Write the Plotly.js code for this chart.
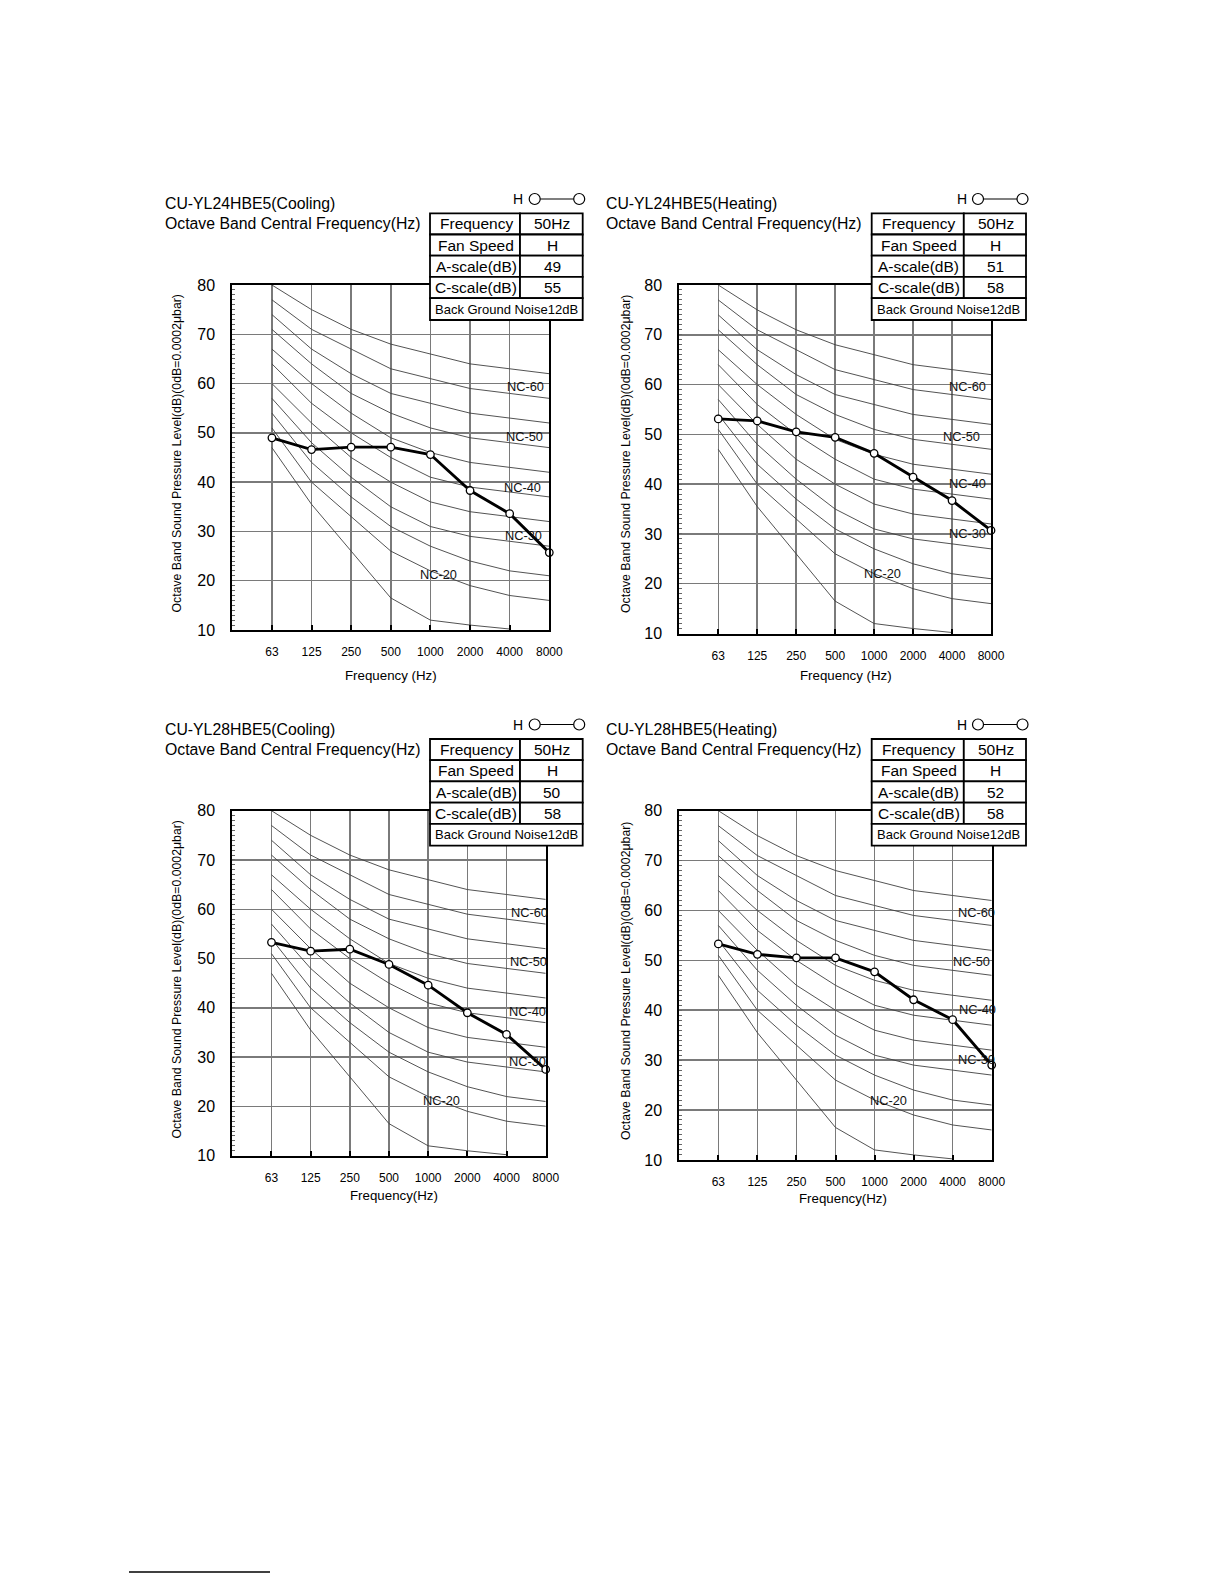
<!DOCTYPE html>
<html>
<head>
<meta charset="utf-8">
<script src="https://cdn.plot.ly/plotly-3.0.1.min.js"></script>
<style>
  html, body { margin: 0; padding: 0; background: #ffffff; }
  #chart { width: 1224px; height: 1584px; }
</style>
</head>
<body>
<div id="chart"></div>
<script>
// ---------- DATA ----------
const freqLabels = ['63', '125', '250', '500', '1000', '2000', '4000', '8000'];

// NC reference curves (dB at each octave band)
const nc65 = [80, 75, 71, 68, 66, 64, 63, 62];
const nc60 = [77, 71, 67, 63, 61, 59, 58, 57];
const nc55 = [74, 67, 62, 58, 56, 54, 53, 52];
const nc50 = [71, 64, 58, 54, 51, 49, 48, 47];
const nc45 = [67, 60, 54, 49, 46, 44, 43, 42];
const nc40 = [64, 56, 50, 45, 41, 39, 38, 37];
const nc35 = [60, 52, 45, 40, 36, 34, 33, 32];
const nc30 = [57, 48, 41, 35, 31, 29, 28, 27];
const nc25 = [54, 44, 37, 31, 27, 24, 22, 21];
const nc20 = [51, 40, 33, 26, 22, 19, 17, 16];
const ncLow = [47, 35.5, 26, 16.5, 12, 11, 10.2];

// Measured octave band levels
const cool24 = [49.0, 46.6, 47.1, 47.1, 45.6, 38.3, 33.6, 25.7];
const heat24 = [53.1, 52.7, 50.5, 49.4, 46.2, 41.4, 36.7, 30.7];
const cool28 = [53.3, 51.5, 51.9, 48.8, 44.6, 39.0, 34.6, 27.5];
const heat28 = [53.3, 51.2, 50.5, 50.5, 47.7, 42.1, 38.1, 29.0];

// Chart texts
const chartTitles = ['CU-YL24HBE5(Cooling)', 'CU-YL24HBE5(Heating)', 'CU-YL28HBE5(Cooling)', 'CU-YL28HBE5(Heating)'];
const subTitle = 'Octave Band Central Frequency(Hz)';
const xTitles = ['Frequency (Hz)', 'Frequency (Hz)', 'Frequency(Hz)', 'Frequency(Hz)'];
const yTitle = 'Octave Band Sound Pressure Level(dB)(0dB=0.0002\u03bcbar)';
const yTickVals = [10, 20, 30, 40, 50, 60, 70, 80];
const tableLabels = ['Frequency', 'Fan Speed', 'A-scale(dB)', 'C-scale(dB)'];
const table24C = ['50Hz', 'H', '49', '55'];
const table24H = ['50Hz', 'H', '51', '58'];
const table28C = ['50Hz', 'H', '50', '58'];
const table28H = ['50Hz', 'H', '52', '58'];
const bgNoise = 'Back Ground Noise12dB';
const ncLabelTexts = ['NC-60', 'NC-50', 'NC-40', 'NC-30', 'NC-20'];

// ---------- LAYOUT GEOMETRY (pixels) ----------
const W = 1224, H = 1584;
const px = x => x / W;
const py = y => 1 - y / H;
const FONT = 'Liberation Sans, Arial, Helvetica, sans-serif';

const charts = [
  { vals: cool24, table: table24C, L: 232.3, R: 549.3, T: 285, B: 630, tabL: 430, tabM: 520, tabR: 582.7, tabT: 213.3,
    titleX: 162.7, titleY: 203.3, legY: 199, xtX: 390.5, xtY: 675.7, ytX: 176.5, ytY: 453,
    ncPos: [[6.39, 59.4], [6.37, 49.2], [6.33, 39.0], [6.35, 29.2], [4.2, 21.2]] },
  { vals: heat24, table: table24H, L: 679.3, R: 991, T: 285, B: 633.5, tabL: 871.7, tabM: 963.8, tabR: 1026, tabT: 213.3,
    titleX: 604.4, titleY: 203.3, legY: 199, xtX: 846.4, xtY: 675.7, ytX: 626, ytY: 454,
    ncPos: [[6.39, 59.6], [6.25, 49.6], [6.39, 40.1], [6.39, 30.1], [4.21, 22.0]] },
  { vals: cool28, table: table28C, L: 232.3, R: 545.7, T: 810.7, B: 1155.7, tabL: 430, tabM: 520, tabR: 582.7, tabT: 739,
    titleX: 162.7, titleY: 729, legY: 724.5, xtX: 394, xtY: 1195, ytX: 176.5, ytY: 979,
    ncPos: [[6.58, 59.4], [6.55, 49.4], [6.54, 39.2], [6.54, 29.1], [4.33, 21.1]] },
  { vals: heat28, table: table28H, L: 679.3, R: 991.7, T: 810.7, B: 1159.9, tabL: 871.7, tabM: 963.8, tabR: 1026, tabT: 739,
    titleX: 604.4, titleY: 729, legY: 724.5, xtX: 843.4, xtY: 1198.9, ytX: 626, ytY: 981,
    ncPos: [[6.62, 59.6], [6.49, 49.7], [6.64, 40.1], [6.62, 30.1], [4.37, 22.0]] }
];

const ncCurves = [nc65, nc60, nc55, nc50, nc45, nc40, nc35, nc30, nc25, nc20, ncLow];

const traces = [];
const layout = {
  width: W, height: H,
  margin: { l: 0, r: 0, t: 0, b: 0 },
  paper_bgcolor: '#ffffff',
  plot_bgcolor: '#ffffff',
  showlegend: false,
  font: { family: FONT, color: '#000' },
  shapes: [],
  annotations: []
};

charts.forEach((c, i) => {
  const n = i + 1;
  const xa = 'x' + (n === 1 ? '' : n);
  const ya = 'y' + (n === 1 ? '' : n);
  const xKey = 'xaxis' + (n === 1 ? '' : n);
  const yKey = 'yaxis' + (n === 1 ? '' : n);

  layout[xKey] = {
    domain: [px(c.L), px(c.R)],
    anchor: ya,
    type: 'category',
    categoryorder: 'array',
    categoryarray: freqLabels,
    range: [-1, 7],
    showgrid: true, gridcolor: '#7a7a7a', gridwidth: 1.5,
    showline: true, mirror: true, linecolor: '#000', linewidth: 2,
    ticks: 'inside', ticklen: 5, tickwidth: 2, tickcolor: '#000',
    tickfont: { family: FONT, size: 12, color: '#000' },
    ticklabelstandoff: 10,
    zeroline: false, fixedrange: true
  };
  layout[yKey] = {
    domain: [py(c.B), py(c.T)],
    anchor: xa,
    range: [10, 80],
    tickmode: 'array', tickvals: yTickVals, ticktext: yTickVals.map(String),
    showgrid: true, gridcolor: '#7a7a7a', gridwidth: 1.5,
    showline: true, mirror: true, linecolor: '#000', linewidth: 2,
    ticks: 'inside', ticklen: 3, tickwidth: 1, tickcolor: '#666',
    minor: { tickmode: 'linear', tick0: 10, dtick: 1, ticks: 'inside', ticklen: 3, tickwidth: 1, tickcolor: '#666', showgrid: false },
    tickfont: { family: FONT, size: 16, color: '#000' },
    ticklabelstandoff: 12,
    zeroline: false, fixedrange: true
  };

  ncCurves.forEach(curve => {
    traces.push({
      type: 'scatter', mode: 'lines',
      x: freqLabels.slice(0, curve.length), y: curve,
      xaxis: xa, yaxis: ya,
      line: { color: '#404040', width: 0.9 },
      hoverinfo: 'skip'
    });
  });

  traces.push({
    type: 'scatter', mode: 'lines+markers',
    x: freqLabels, y: c.vals,
    xaxis: xa, yaxis: ya,
    cliponaxis: false,
    line: { color: '#000', width: 2.9 },
    marker: { size: 7.5, color: '#ffffff', line: { color: '#000', width: 1.3 } }
  });

  // NC labels
  c.ncPos.forEach((p, k) => {
    layout.annotations.push({
      xref: xa, yref: ya, x: p[0], y: p[1],
      text: ncLabelTexts[k], showarrow: false,
      xanchor: 'center', yanchor: 'middle',
      font: { family: FONT, size: 12.8, color: '#111' }
    });
  });

  // Titles
  layout.annotations.push({
    xref: 'paper', yref: 'paper', x: px(c.titleX), y: py(c.titleY),
    text: chartTitles[i], showarrow: false, xanchor: 'left', yanchor: 'middle',
    font: { family: FONT, size: 15.8, color: '#000' }
  });
  layout.annotations.push({
    xref: 'paper', yref: 'paper', x: px(c.titleX), y: py(c.titleY + 20),
    text: subTitle, showarrow: false, xanchor: 'left', yanchor: 'middle',
    font: { family: FONT, size: 15.8, color: '#000' }
  });

  // Axis titles
  layout.annotations.push({
    xref: 'paper', yref: 'paper', x: px(c.xtX), y: py(c.xtY),
    text: xTitles[i], showarrow: false, xanchor: 'center', yanchor: 'middle',
    font: { family: FONT, size: 13.3, color: '#000' }
  });
  layout.annotations.push({
    xref: 'paper', yref: 'paper', x: px(c.ytX), y: py(c.ytY),
    text: yTitle, showarrow: false, textangle: -90, xanchor: 'center', yanchor: 'middle',
    font: { family: FONT, size: 12.3, color: '#000' }
  });

  // Table
  const rowH = [0, 21.2, 42.4, 63.6, 84.8, 106.7].map(d => c.tabT + d);
  for (let r = 0; r < 4; r++) {
    layout.shapes.push({
      type: 'rect', xref: 'paper', yref: 'paper', layer: 'above',
      x0: px(c.tabL), x1: px(c.tabM), y0: py(rowH[r + 1]), y1: py(rowH[r]),
      fillcolor: '#ffffff', line: { color: '#000', width: 1.8 }
    });
    layout.shapes.push({
      type: 'rect', xref: 'paper', yref: 'paper', layer: 'above',
      x0: px(c.tabM), x1: px(c.tabR), y0: py(rowH[r + 1]), y1: py(rowH[r]),
      fillcolor: '#ffffff', line: { color: '#000', width: 1.8 }
    });
    layout.annotations.push({
      xref: 'paper', yref: 'paper', x: px((c.tabL + c.tabM) / 2 + 1), y: py((rowH[r] + rowH[r + 1]) / 2),
      text: tableLabels[r], showarrow: false, xanchor: 'center', yanchor: 'middle',
      font: { family: FONT, size: 15.5, color: '#000' }
    });
    layout.annotations.push({
      xref: 'paper', yref: 'paper', x: px((c.tabM + c.tabR) / 2 + 1), y: py((rowH[r] + rowH[r + 1]) / 2),
      text: c.table[r], showarrow: false, xanchor: 'center', yanchor: 'middle',
      font: { family: FONT, size: 15.5, color: '#000' }
    });
  }
  layout.shapes.push({
    type: 'rect', xref: 'paper', yref: 'paper', layer: 'above',
    x0: px(c.tabL), x1: px(c.tabR), y0: py(rowH[5]), y1: py(rowH[4]),
    fillcolor: '#ffffff', line: { color: '#000', width: 1.8 }
  });
  layout.annotations.push({
    xref: 'paper', yref: 'paper', x: px((c.tabL + c.tabR) / 2), y: py((rowH[4] + rowH[5]) / 2),
    text: bgNoise, showarrow: false, xanchor: 'center', yanchor: 'middle',
    font: { family: FONT, size: 13, color: '#000' }
  });

  // Legend symbol  H O---O
  const r0 = 5.5;
  const c2 = c.tabR - 3.5, c1 = c2 - 44.5, hx = c1 - 16.5;
  layout.shapes.push({
    type: 'line', xref: 'paper', yref: 'paper', layer: 'above',
    x0: px(c1 + r0), x1: px(c2 - r0), y0: py(c.legY), y1: py(c.legY),
    line: { color: '#000', width: 1.2 }
  });
  [c1, c2].forEach(cx => {
    layout.shapes.push({
      type: 'circle', xref: 'paper', yref: 'paper', layer: 'above',
      x0: px(cx - r0), x1: px(cx + r0), y0: py(c.legY + r0), y1: py(c.legY - r0),
      fillcolor: '#ffffff', line: { color: '#000', width: 1.2 }
    });
  });
  layout.annotations.push({
    xref: 'paper', yref: 'paper', x: px(hx), y: py(c.legY),
    text: 'H', showarrow: false, xanchor: 'center', yanchor: 'middle',
    font: { family: FONT, size: 14, color: '#000' }
  });
});

// Footnote separator line
layout.shapes.push({
  type: 'line', xref: 'paper', yref: 'paper',
  x0: px(129), x1: px(270), y0: py(1572), y1: py(1572),
  line: { color: '#000', width: 1.5 }
});

Plotly.newPlot('chart', traces, layout, { staticPlot: true, displayModeBar: false });
</script>
</body>
</html>
